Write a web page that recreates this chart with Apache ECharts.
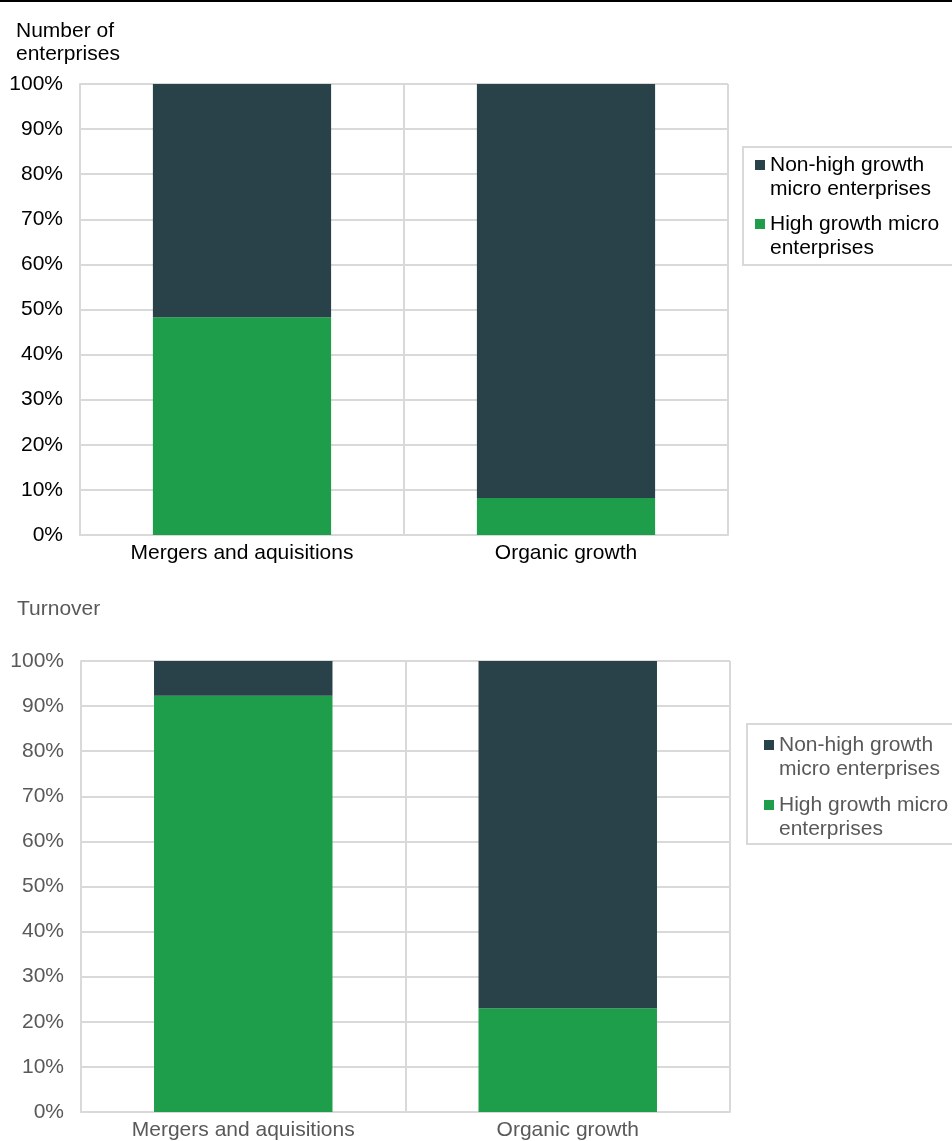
<!DOCTYPE html>
<html>
<head>
<meta charset="utf-8">
<style>
  html, body { margin: 0; padding: 0; background: #fff; }
  #chart { width: 952px; height: 1141px; }
</style>
<script src="https://cdn.jsdelivr.net/npm/echarts@6/dist/echarts.min.js"></script>
</head>
<body>
<div id="chart"></div>
<script>
// Share of high growth vs non-high growth micro enterprises, by route to growth
const categories = ['Mergers and aquisitions', 'Organic growth'];
const seriesNames = ['Non-high growth micro enterprises', 'High growth micro enterprises'];
const legendText = {
  'Non-high growth micro enterprises': 'Non-high growth\nmicro enterprises',
  'High growth micro enterprises': 'High growth micro\nenterprises'
};
const yTicks = [0, 10, 20, 30, 40, 50, 60, 70, 80, 90, 100];

// Number of enterprises (%)
const enterprisesHigh = [48.3, 8.2];
const enterprisesNon = [51.7, 91.8];
// Turnover (%)
const turnoverHigh = [92.3, 23.0];
const turnoverNon = [7.7, 77.0];

const DARK = '#29424a';
const GREEN = '#1e9e4a';
const GRID = '#d9d9d9';
const FONT = 'Liberation Sans, Arial, sans-serif';
const FS = 21;

// tall legend swatch: square at the top so it lines up with the first text line
const swatch = 'path://M0,0L10,0L10,10L0,10Z M0,34';

function valueAxis(gridIndex, color) {
  return {
    type: 'value', gridIndex: gridIndex,
    min: yTicks[0], max: yTicks[yTicks.length - 1], interval: 10,
    axisLine: { show: true, lineStyle: { color: GRID, width: 2 } },
    axisTick: { show: false },
    splitLine: { show: true, lineStyle: { color: GRID, width: 2 } },
    axisLabel: { formatter: '{value}%', fontFamily: FONT, fontSize: FS, color: color, margin: 17 }
  };
}
function categoryAxis(gridIndex, color) {
  return {
    type: 'category', gridIndex: gridIndex, data: categories,
    axisLine: { show: true, lineStyle: { color: GRID, width: 2 } },
    axisTick: { show: false },
    splitLine: { show: true, lineStyle: { color: GRID, width: 2 } },
    axisLabel: { fontFamily: FONT, fontSize: FS, color: color, margin: 8 }
  };
}
function legendFor(left, top, padding, gap, color) {
  return {
    orient: 'vertical', left: left, top: top,
    data: seriesNames,
    icon: swatch, itemWidth: 10, itemHeight: 34, itemGap: gap,
    padding: padding,
    borderColor: GRID, borderWidth: 2,
    selectedMode: false,
    formatter: function (n) { return legendText[n]; },
    textStyle: { fontFamily: FONT, fontSize: FS, lineHeight: 24, color: color }
  };
}

const chart = echarts.init(document.getElementById('chart'), null, { renderer: 'canvas' });
chart.setOption({
  animation: false,
  backgroundColor: '#ffffff',
  title: [
    { text: 'Number of\nenterprises', left: 11, top: 15,
      textStyle: { fontFamily: FONT, fontSize: FS, fontWeight: 'normal', lineHeight: 23, color: '#000' } },
    { text: 'Turnover', left: 12, top: 594,
      textStyle: { fontFamily: FONT, fontSize: FS, fontWeight: 'normal', color: '#595959' } }
  ],
  graphic: [
    { type: 'line', shape: { x1: 0, y1: 1, x2: 952, y2: 1 }, style: { stroke: '#000', lineWidth: 2 } }
  ],
  legend: [
    legendFor(743, 147, [6, 30, 5, 12], 11, '#000'),
    legendFor(747, 724, [9, 30, 3, 17], 12, '#595959')
  ],
  grid: [
    { left: 80, top: 84, width: 648, height: 451 },
    { left: 81, top: 661, width: 649, height: 452 }
  ],
  xAxis: [categoryAxis(0, '#000'), categoryAxis(1, '#595959')],
  yAxis: [valueAxis(0, '#000'), valueAxis(1, '#595959')],
  series: [
    { name: seriesNames[1], type: 'bar', stack: 'a', xAxisIndex: 0, yAxisIndex: 0,
      data: enterprisesHigh, barWidth: '55%', itemStyle: { color: GREEN } },
    { name: seriesNames[0], type: 'bar', stack: 'a', xAxisIndex: 0, yAxisIndex: 0,
      data: enterprisesNon, barWidth: '55%', itemStyle: { color: DARK } },
    { name: seriesNames[1], type: 'bar', stack: 'b', xAxisIndex: 1, yAxisIndex: 1,
      data: turnoverHigh, barWidth: '55%', itemStyle: { color: GREEN } },
    { name: seriesNames[0], type: 'bar', stack: 'b', xAxisIndex: 1, yAxisIndex: 1,
      data: turnoverNon, barWidth: '55%', itemStyle: { color: DARK } }
  ]
});
</script>
</body>
</html>
